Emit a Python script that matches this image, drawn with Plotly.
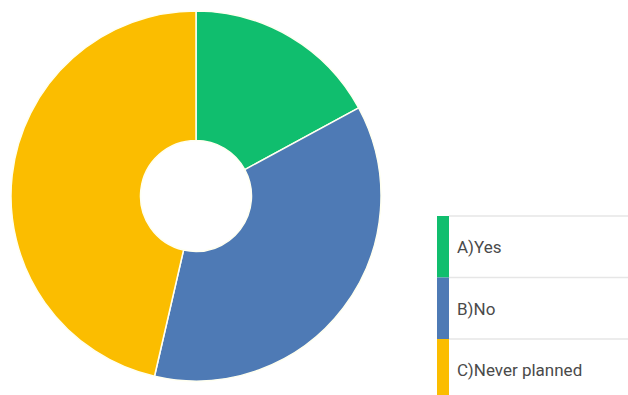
import plotly.graph_objects as go

labels = ["A)Yes", "B)No", "C)Never planned"]
values = [17.1, 36.5, 46.4]
colors = ["#10BE6E", "#4E7AB5", "#FBBD00"]

W, H = 628, 395
fig = go.Figure()
fig.add_trace(go.Pie(
    labels=labels, values=values, sort=False, direction="clockwise", rotation=0,
    hole=0.30, textinfo="none", showlegend=False,
    marker=dict(colors=colors, line=dict(color="#FFFFF0", width=1.5)),
    domain=dict(x=[11 / W, 381 / W], y=[(H - 381) / H, (H - 11) / H]),
))

# Custom legend panel
shapes = []
annotations = []
top = 216
row_h = 61.5
bar_x0, bar_x1 = 437, 449
for i, (lab, col) in enumerate(zip(labels, colors)):
    y0 = top + i * row_h
    y1 = min(y0 + row_h, H)
    shapes.append(dict(type="rect", xref="paper", yref="paper",
                       x0=bar_x0 / W, x1=bar_x1 / W,
                       y0=1 - y1 / H, y1=1 - y0 / H,
                       fillcolor=col, line=dict(width=0), layer="above"))
    shapes.append(dict(type="line", xref="paper", yref="paper",
                       x0=bar_x1 / W, x1=1, y0=1 - y0 / H, y1=1 - y0 / H,
                       line=dict(color="#E6E6E6", width=1.5)))
    annotations.append(dict(xref="paper", yref="paper", x=455 / W,
                            y=1 - (y0 + 31) / H, text=lab, showarrow=False,
                            xanchor="left", yanchor="middle",
                            font=dict(family="Roboto", size=17, color="#4A4A4A")))

fig.update_layout(width=W, height=H, margin=dict(l=0, r=0, t=0, b=0),
                  paper_bgcolor="white", plot_bgcolor="white",
                  shapes=shapes, annotations=annotations)
fig.write_html("out.html")
